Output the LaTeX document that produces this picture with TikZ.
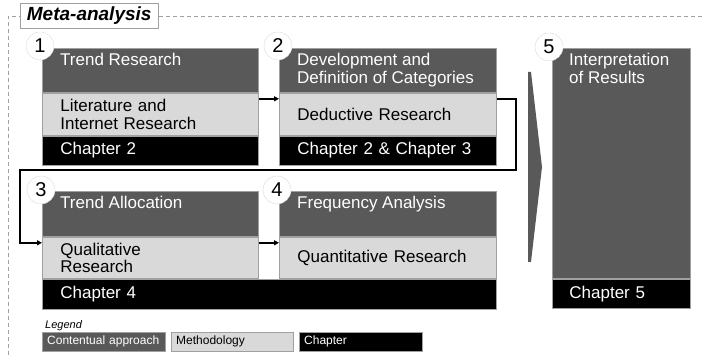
\documentclass[tikz,border=0pt]{standalone}
\usepackage{fontspec}
\setmainfont{Liberation Sans}
\usetikzlibrary{arrows.meta,positioning}
\definecolor{darkbox}{HTML}{595959}
\definecolor{lightbox}{HTML}{D9D9D9}
\definecolor{edgegray}{HTML}{A0A0A0}
\begin{document}
\begin{tikzpicture}[x=1pt,y=-1pt,
    part/.style={draw=edgegray, line width=0.8pt, anchor=north west, inner ysep=0pt, inner xsep=18pt, align=left, font=\fontsize{17}{17.5}\selectfont},
    content/.style={part, fill=darkbox},
    method/.style={part, fill=lightbox, text=black},
    chapter/.style={part, fill=black, text=white},
    heading/.style={anchor=north west, inner xsep=18pt, inner ysep=5pt, align=left, text=white, font=\fontsize{17}{17.5}\selectfont},
    num/.style={circle, draw=black!15, fill=white, minimum size=28pt, inner sep=0pt, font=\fontsize{20}{20}\selectfont},
    flow/.style={line width=1.6pt, -{Triangle[length=5pt,width=5pt]}},
    key/.style={draw=edgegray, anchor=north west, inner xsep=5pt, inner ysep=0pt, minimum height=19pt, align=left, font=\fontsize{12}{12}\selectfont}]
    \useasboundingbox (0,0) rectangle (702,355);
    % dashed frame and title
    \draw[edgegray, line width=0.9pt, dash pattern=on 4pt off 3pt] (702,16) -- (8,16) -- (8,355);
    \node[draw=edgegray, fill=white, anchor=north west, minimum width=138pt, minimum height=25pt, inner sep=0pt, font=\bfseries\itshape\fontsize{19}{19}\selectfont] (title) at (20,3) {Meta-analysis};
    % row 1
    \node[content, minimum width=216pt, minimum height=44pt] (c1) at (42,48) {};
    \node[method, text width=180pt, minimum height=42pt] (m1) at (c1.south west) {Literature and\\Internet Research};
    \node[chapter, text width=180pt, minimum height=29pt] (ch1) at (m1.south west) {Chapter 2};
    \node[heading] (t1) at (c1.north west) {Trend Research};
    \node[content, minimum width=217pt, minimum height=44pt] (c2) at (279,48) {};
    \node[method, text width=181pt, minimum height=42pt] (m2) at (c2.south west) {Deductive Research};
    \node[chapter, text width=181pt, minimum height=29pt] (ch2) at (m2.south west) {Chapter 2 \& Chapter 3};
    \node[heading] (t2) at (c2.north west) {Development and\\Definition of Categories};
    % row 2
    \node[content, minimum width=216pt, minimum height=45pt] (c3) at (42,191) {};
    \node[method, text width=180pt, minimum height=41pt] (m3) at (c3.south west) {Qualitative\\Research};
    \node[heading] (t3) at (c3.north west) {Trend Allocation};
    \node[content, minimum width=217pt, minimum height=45pt] (c4) at (279,191) {};
    \node[method, text width=181pt, minimum height=41pt] (m4) at (c4.south west) {Quantitative Research};
    \node[heading] (t4) at (c4.north west) {Frequency Analysis};
    \node[chapter, text width=418pt, minimum height=30pt] (ch4) at (m3.south west) {Chapter 4};
    % result column
    \node[content, minimum width=138pt, minimum height=230pt] (c5) at (552,48) {};
    \node[chapter, inner xsep=17pt, text width=104pt, minimum height=29pt] (ch5) at (c5.south west) {Chapter 5};
    \node[heading, inner xsep=17pt] (t5) at (c5.north west) {Interpretation\\of Results};
    \fill[darkbox] (528,72) -- (531,72) -- (542,167) -- (531,262) -- (528,262) -- cycle;
    % connectors
    \coordinate (turn) at (516,170);
    \draw[flow] ([yshift=-6pt]m1.north east) -- ([yshift=-6pt]m2.north west);
    \draw[flow] ([yshift=-6pt]m2.north east) -| (turn) -| ([yshift=-6pt, xshift=-22pt]m3.north west) -- ([yshift=-6pt]m3.north west);
    \draw[flow] ([yshift=-6pt]m3.north east) -- ([yshift=-6pt]m4.north west);
    % step numbers
    \node[num] (n1) at (40,46) {1};
    \node[num] (n2) at (278,46) {2};
    \node[num] (n3) at (41,190) {3};
    \node[num] (n4) at (277,190) {4};
    \node[num] (n5) at (549,47) {5};
    % legend
    \node[anchor=north west, inner sep=0pt, font=\itshape\fontsize{11}{11}\selectfont] (legend) at (45,320) {Legend};
    \node[key, fill=darkbox, text=white, text width=113pt] (k1) at (42,332) {Contentual approach};
    \node[key, fill=lightbox, text width=112pt] (k2) at (171,332) {Methodology};
    \node[key, fill=black, text=white, text width=113pt] (k3) at (299,332) {Chapter};
\end{tikzpicture}
\end{document}
